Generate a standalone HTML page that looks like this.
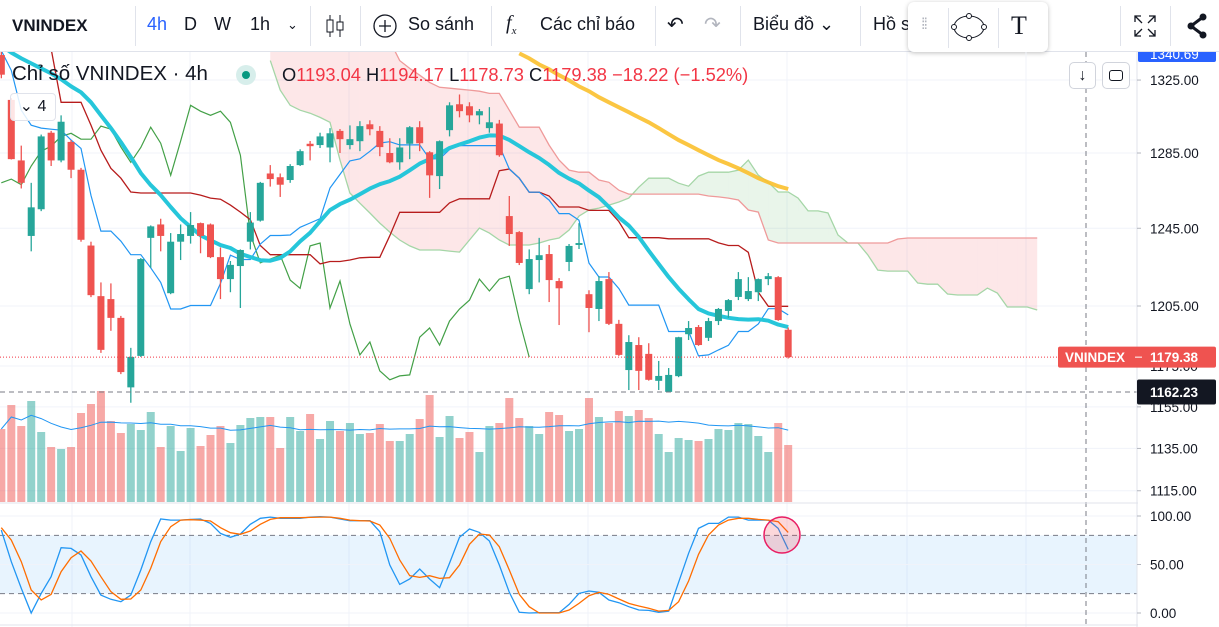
<!DOCTYPE html>
<html><head><meta charset="utf-8">
<style>
body{margin:0;width:1219px;height:627px;overflow:hidden;background:#fff;font-family:"Liberation Sans","Noto Sans CJK SC",sans-serif;color:#131722;position:relative}
.tb{position:absolute;left:0;top:0;width:1219px;height:51px;border-bottom:1px solid #e0e3eb;background:#fff}
.t{position:absolute;top:14px;font-size:18px;white-space:nowrap}
.sep{position:absolute;top:6px;width:1px;height:40px;background:#e0e3eb}
.fl{position:absolute;left:908px;top:2px;width:140px;height:50px;background:#fff;border-radius:6px;box-shadow:0 1px 5px rgba(0,0,0,.25)}
</style></head><body>
<div class="tb">
<div class="t" style="left:12px;font-weight:bold;font-size:17px;top:16px">VNINDEX</div>
<div class="sep" style="left:135px"></div>
<div class="t" style="left:147px;color:#2962ff">4h</div>
<div class="t" style="left:184px">D</div>
<div class="t" style="left:214px">W</div>
<div class="t" style="left:250px">1h</div>
<div class="t" style="left:287px;font-size:13px;top:17px">&#8964;</div>
<div class="sep" style="left:310px"></div>
<svg style="position:absolute;left:324px;top:13px" width="22" height="26"><path d="M6 2v22M16 2v22" stroke="#131722"/><rect x="3" y="7" width="6" height="12" fill="#fff" stroke="#131722"/><rect x="13" y="9" width="6" height="8" fill="#fff" stroke="#131722"/></svg>
<div class="sep" style="left:360px"></div>
<svg style="position:absolute;left:372px;top:13px" width="26" height="26"><circle cx="13" cy="13" r="11" fill="none" stroke="#131722" stroke-width="1.3"/><path d="M13 7v12M7 13h12" stroke="#131722" stroke-width="1.3"/></svg>
<div class="t" style="left:408px">So sánh</div>
<div class="sep" style="left:491px"></div>
<div class="t" style="left:506px;font-style:italic;font-family:'Liberation Serif',serif;font-size:20px;top:12px">f<sub style="font-size:11px">x</sub></div>
<div class="t" style="left:540px">Các chỉ báo</div>
<div class="sep" style="left:655px"></div>
<div class="t" style="left:667px;font-size:20px;top:12px">&#8630;</div>
<div class="t" style="left:704px;font-size:20px;top:12px;color:#b2b5be">&#8631;</div>
<div class="sep" style="left:740px"></div>
<div class="t" style="left:753px">Biểu đồ &#8964;</div>
<div class="sep" style="left:860px"></div>
<div class="t" style="left:873px">Hồ sơ</div>
<div class="sep" style="left:1120px"></div>
<svg style="position:absolute;left:1133px;top:14px" width="24" height="24"><path d="M2 8V2h6M2 2l7 7M22 8V2h-6M22 2l-7 7M2 16v6h6M2 22l7-7M22 16v6h-6M22 22l-7-7" stroke="#131722" fill="none" stroke-width="1.3"/></svg>
<div class="sep" style="left:1170px"></div>
<svg style="position:absolute;left:1185px;top:13px" width="24" height="26"><path d="M18 4L6 13l12 9" stroke="#131722" stroke-width="3" fill="none"/><circle cx="18" cy="4" r="3.5" fill="#131722"/><circle cx="6" cy="13" r="3.5" fill="#131722"/><circle cx="18" cy="22" r="3.5" fill="#131722"/></svg>
</div>
<div class="fl">
<div style="position:absolute;left:13px;top:14px;color:#b2b5be;font-size:16px;letter-spacing:-2px">⁞⁞</div>
<div style="position:absolute;left:40px;top:6px;width:1px;height:40px;background:#e0e3eb"></div>
<svg style="position:absolute;left:43px;top:10px" width="36" height="30"><ellipse cx="18" cy="15" rx="15" ry="11" fill="none" stroke="#131722"/><circle cx="3" cy="15" r="2.5" fill="#fff" stroke="#131722"/><circle cx="33" cy="15" r="2.5" fill="#fff" stroke="#131722"/><circle cx="18" cy="4" r="2.5" fill="#fff" stroke="#131722"/><circle cx="18" cy="26" r="2.5" fill="#fff" stroke="#131722"/></svg>
<div style="position:absolute;left:90px;top:6px;width:1px;height:40px;background:#e0e3eb"></div>
<div style="position:absolute;left:103px;top:9px;font-size:26px;font-family:'Liberation Serif',serif;color:#131722">T</div>
</div>

<svg id="ch" style="position:absolute;left:0;top:52px" width="1219" height="575"></svg>

<div style="position:absolute;left:12px;top:62px;font-size:20.5px;color:#131722;white-space:nowrap">Chỉ số VNINDEX · 4h</div>
<div style="position:absolute;left:236px;top:65px;width:20px;height:20px;border-radius:10px;background:#d7eeeb"><div style="position:absolute;left:6px;top:6px;width:8px;height:8px;border-radius:4px;background:#089981"></div></div>
<div style="position:absolute;left:282px;top:64px;font-size:18.3px;color:#f23645;white-space:nowrap"><span style="color:#131722">O</span>1193.04 <span style="color:#131722">H</span>1194.17 <span style="color:#131722">L</span>1178.73 <span style="color:#131722">C</span>1179.38 −18.22 (−1.52%)</div>
<div style="position:absolute;left:10px;top:93px;width:44px;height:26px;border:1px solid #e0e3eb;border-radius:4px;background:rgba(255,255,255,.85);font-size:16px;line-height:26px;text-align:center">&#8964; 4</div>
<div style="position:absolute;left:1069px;top:62px;width:25px;height:25px;border:1px solid #d1d4dc;border-radius:5px;background:#fff;text-align:center;font-size:16px;line-height:25px">↓</div>
<div style="position:absolute;left:1102px;top:62px;width:26px;height:25px;border:1px solid #d1d4dc;border-radius:5px;background:#fff"><div style="position:absolute;left:6px;top:7px;width:12px;height:9px;border:1.5px solid #131722;border-radius:3px"></div></div>

<script>
const NS='http://www.w3.org/2000/svg';
const svg=document.getElementById('ch');
// ---------- data ----------
const opens=[1339,1314,1281,1241,1255,1296,1281,1291,1276,1236,1210,1208.5,1199,1164.5,1180,1240,1247,1211.5,1238,1241,1247.7,1247,1230,1218.7,1225.4,1238,1249,1274,1272,1270.5,1278.5,1290,1289.3,1288,1297,1289.3,1291.4,1300.6,1297,1285,1280,1290,1299,1285.4,1272.6,1297.4,1311.6,1310.5,1305.5,1298.5,1301,1251.4,1243,1213.6,1228.5,1231.6,1217.7,1227.5,1236.3,1211,1203.5,1218.7,1196,1173,1185.4,1181,1167.7,1162.3,1170,1190.8,1194.4,1189,1197.4,1202.5,1209.6,1208.5,1212,1218.7,1219.7,1193.04];
const highs=[1342,1315,1289,1269,1295,1297,1305.5,1292,1277,1238,1217,1216.5,1200,1184,1229.5,1246.5,1250,1242.5,1247,1253.5,1248,1247.5,1235,1228,1234,1253.5,1269.5,1278.5,1274,1279,1287,1291.5,1296,1298.5,1298,1300,1302.3,1302.8,1299.6,1293,1293,1299.6,1302.3,1286,1291.8,1312.7,1317,1312.7,1309,1310,1303,1262,1243.5,1234,1240,1236.3,1219.2,1236.8,1247.7,1213,1220.2,1222.3,1198,1190.3,1189.3,1186.3,1177.5,1174,1189.5,1197.4,1195.4,1199,1204,1208.5,1222.3,1219.7,1219,1221.8,1220.2,1194.17];
const lows=[1326,1281.5,1266,1233,1254,1278,1280,1271.5,1238,1209.5,1181.5,1192.5,1171,1157,1179.5,1224.5,1233,1211,1228.5,1237,1232,1229.5,1208.5,1212,1204,1234,1248.5,1267,1261.5,1269,1278,1281,1287.7,1280,1285,1287,1286,1294.6,1283.3,1279.5,1276,1281.7,1286,1261,1265.7,1294,1304.4,1301.7,1300.6,1296,1283,1235.8,1225.9,1211,1217,1207,1195.4,1222.8,1234.2,1191.8,1197.4,1195.4,1180,1163.2,1163.2,1167.8,1163.2,1162,1169.5,1187.9,1185,1187.4,1195.4,1199,1208,1207.5,1207.5,1215.6,1197.5,1178.73];
const closes=[1328,1281.7,1269,1256,1294,1281,1302,1276,1239,1210.5,1183,1199,1172,1179.5,1229,1246,1241,1238,1242,1246.7,1241,1230,1218.7,1226,1233.7,1248,1269,1271,1268,1278,1286,1288.7,1294,1295.7,1292.5,1292.5,1299.6,1297.9,1288.2,1280,1288,1299,1290.3,1273,1291.4,1311,1307.8,1305.5,1307.8,1301.7,1283.8,1242,1227,1229,1231,1218.2,1214,1235.8,1237.3,1204,1217.7,1196,1180.5,1186.9,1172.6,1168.2,1170.1,1170.6,1189.3,1193.9,1185.4,1197.4,1203.5,1208,1218.7,1212.6,1218.7,1220.2,1197.9,1179.38];
const volumes=[73,97,76,101,70,55,53,55,89,98,111,81,69,78,72,90,55,76,51,74,56,67,76,59,77,84,85,85,54,85,71,88,63,81,71,79,68,69,78,61,61,68,83,107,65,86,64,70,50,76,79,104,84,76,68,90,87,71,73,104,85,79,91,86,92,84,68,50,64,62,61,63,73,72,79,78,66,50,79,57];
const ma20Early=[1344.4,1340.4,1337.1,1334.3,1331.5,1328.7,1325.4,1321.5,1318.2,1312.7,1305.5,1298.5,1290.9,1282.8,1274.2,1267.8,1262.5,1256.2,1250.3];
const kijunEarly=[1352.8,1350,1348.3,1346.1,1344.4,1342.6,1312.7,1312.7,1312.7,1300.1,1286.5,1276.8,1271.5,1264.1,1263.6,1263.6,1263.6,1263.6,1263.6,1263.6,1262.5,1260.9,1260.3,1257.2,1253.5];
const tenkanEarly=[1341.5,1330.4,1308.3,1300.1,1298.5,1297.9,1297.4,1292];
const cloudStart=27;
const spanA=[1335.9,1319.4,1311,1308.3,1306.7,1304.4,1301.7,1281.2,1263.6,1258.2,1253,1247.7,1243,1238.9,1235.8,1233.7,1233.7,1233.7,1233.1,1232.6,1238.9,1245.1,1242.5,1238.9,1236.3,1236.3,1236.3,1237.3,1238.9,1239.9,1244.1,1251.4,1254.6,1255.6,1257.2,1258.8,1260.9,1266.7,1271.5,1271.5,1271.5,1268.8,1267.2,1272.6,1274.7,1274.7,1274.7,1275.8,1281.2,1273.1,1269.3,1264.1,1264.1,1260.9,1254.1,1254.1,1253,1241.5,1237.3,1237.3,1231.1,1223.3,1222.8,1222.8,1222.8,1216.7,1216.1,1216.1,1211.1,1210.6,1210.6,1210.6,1214.1,1211.6,1204.5,1204.5,1204.5,1203];
const spanB=[1347,1347,1347,1347,1347,1347,1347,1347,1347,1347,1347,1347,1347,1335.9,1331.5,1327.7,1323.7,1321,1320.5,1319.9,1319.4,1318.8,1317.6,1317.6,1308.3,1299,1299,1299,1289.3,1281.2,1275.8,1274.7,1274.7,1270.5,1269.3,1265.1,1263,1263,1263,1263,1263,1263,1263,1263,1262,1261.5,1260.9,1259.9,1254.6,1253.5,1238.9,1237.3,1237.3,1237.3,1237.3,1237.3,1237.3,1237.3,1237.3,1237.3,1237.3,1237.3,1237.3,1239.4,1239.9,1239.9,1239.9,1239.9,1239.9,1239.9,1239.9,1239.9,1239.9,1239.9,1239.9,1239.9,1239.9,1239.9];
const slowStart=52;
const slowMA=[1339.9,1337.1,1333.7,1331,1327.7,1324.8,1321.5,1318.8,1315.5,1312.7,1309.9,1307.2,1304.4,1301.7,1298.5,1295.2,1292,1289.3,1286.5,1283.8,1281.2,1279.1,1276.8,1274.2,1271.5,1269.3,1267.2,1265.7];
const stochK=[85.5,52.9,25.4,0,20.2,37.4,67.3,66.6,59.8,37.4,18.5,14.1,11.7,18.5,44.3,73.5,96.9,95.8,95.8,96.5,96.9,92.4,82.1,78,81.4,91.4,97.6,98.9,97.6,97.6,97.6,98.9,99.3,98.9,96.9,95.2,95.2,95.2,83.8,49.5,29.5,35,45.3,35,26.1,51.2,78,86.6,83.1,74.2,49.5,21.3,0.7,0,0.3,0.3,0.3,8.9,20.2,22.7,21.3,13.4,10.6,6.5,3.1,2.7,0.7,2,31.6,61.5,87.2,92.4,92.4,98.9,98.9,95.8,95.8,95.8,87.2,65.6];
const stochD=[87.9,75.2,52.9,23.7,13.4,19.2,42.6,57,63.9,53.6,37.4,22,14.1,14.4,23.7,46,73.5,89,95.8,96.2,95.8,94.8,87.9,82.8,81.1,84.5,91.4,96.5,98.2,98.2,98.2,98.6,98.9,98.9,97.6,95.8,95.2,94.8,90.7,76.9,54.6,38.5,36.7,38.5,35.7,36.4,49.5,70.8,81.4,80.4,68.4,44.3,19.2,6.5,0,0,0,3.1,9.9,17.8,21.3,19.2,14.4,9.9,7.2,4.8,2,2.7,11.7,33,60.4,80.4,90.7,95.8,97.6,97.6,96.5,95.8,94.1,83.1];
const priceTicks=[1325,1285,1245,1205,1175,1155,1135,1115];
const stochTicks=[100,50,0];
const lastClose=1179.38, crossPrice=1162.23;
// ---------- scales ----------
const OY=52;
function X(i){return 1.34+i*9.96;}
function Y(p){return 306-2380*Math.log(p/1205)-OY;}
function VY(v){return 502-v-OY;}
function SY(v){return 613-0.97*v-OY;}
function el(tag,attrs,parent){const e=document.createElementNS(NS,tag);for(const k in attrs)e.setAttribute(k,attrs[k]);(parent||svg).appendChild(e);return e;}
function poly(vals,start,fn,attrs,name,parent){let d='';vals.forEach((v,k)=>{if(v==null)return;d+=(d?'L':'M')+X(start+k).toFixed(1)+' '+fn(v).toFixed(1);});const p=el('path',Object.assign({d:d,fill:'none'},attrs),parent);return p;}
const defs=el('defs',{});
const cp=el('clipPath',{id:'pc'},defs);el('rect',{x:0,y:0,width:1137,height:451},cp);
const cs=el('clipPath',{id:'sc'},defs);el('rect',{x:0,y:452,width:1137,height:123},cs);
[72,190,349,468,588,787,907,1026].forEach(x=>{const g=el('line',{x1:x,x2:x,y1:0,y2:575,stroke:'#f0f3fa'});});
priceTicks.forEach(p=>{const g=el('line',{x1:0,x2:1137,y1:Y(p),y2:Y(p),stroke:'#f0f3fa'});});
const band=el('rect',{x:0,y:SY(80),width:1137,height:SY(20)-SY(80),fill:'rgba(33,150,243,0.1)'});

stochTicks.forEach(v=>{el('line',{x1:0,x2:1137,y1:SY(v),y2:SY(v),stroke:'#f0f3fa'});});
[80,20].forEach(v=>{const l=el('line',{x1:0,x2:1137,y1:SY(v),y2:SY(v),stroke:'#787b86','stroke-dasharray':'5,4'});});
const gP=el('g',{'clip-path':'url(#pc)'});

for(let k=0;k<spanA.length-1;k++){
  const i=cloudStart+k;const a0=Y(spanA[k]),a1=Y(spanA[k+1]),b0=Y(spanB[k]),b1=Y(spanB[k+1]);
  const bull=(spanA[k]+spanA[k+1])>=(spanB[k]+spanB[k+1]);
  const q=el('path',{d:`M${X(i)} ${a0}L${X(i+1)} ${a1}L${X(i+1)} ${b1}L${X(i)} ${b0}Z`,fill:bull?'rgba(76,175,80,0.12)':'rgba(242,54,69,0.12)'},gP);
  
}
poly(spanA,cloudStart,Y,{stroke:'#a5d6a7','stroke-width':1.3},'senkou-span-a',gP);
poly(spanB,cloudStart,Y,{stroke:'#ef9a9a','stroke-width':1.3},'senkou-span-b',gP);
const volMA=volumes.map((v,i)=>{const s=Math.max(0,i-19);const w=volumes.slice(s,i+1);return w.reduce((a,b)=>a+b,0)/w.length;});
volumes.forEach((v,i)=>{const up=closes[i]>=opens[i];const r=el('rect',{x:X(i)-4,y:VY(v),width:8,height:v,fill:up?'rgba(38,166,154,0.5)':'rgba(239,83,80,0.5)'},gP);});
poly(volMA,0,VY,{stroke:'#2196f3','stroke-width':1},'volume-ma',gP);
const tenkan=closes.map((c,i)=>{if(i<8)return tenkanEarly[i];const h=Math.max(...highs.slice(i-8,i+1)),l=Math.min(...lows.slice(i-8,i+1));return (h+l)/2;});
const kijun=closes.map((c,i)=>{if(i<25)return kijunEarly[i];const h=Math.max(...highs.slice(i-25,i+1)),l=Math.min(...lows.slice(i-25,i+1));return (h+l)/2;});
const ma20=closes.map((c,i)=>{if(i<19)return ma20Early[i];return closes.slice(i-19,i+1).reduce((a,b)=>a+b,0)/20;});
const chikou=closes.slice(26);
poly(chikou,0,Y,{stroke:'#43a047','stroke-width':1.2},'chikou-span',gP);
poly(kijun,0,Y,{stroke:'#b71c1c','stroke-width':1.3},'kijun-sen',gP);
poly(tenkan,0,Y,{stroke:'#2196f3','stroke-width':1.2},'tenkan-sen',gP);
poly(ma20,0,Y,{stroke:'#26c6da','stroke-width':4,'stroke-linejoin':'round'},'ma20-line',gP);
poly(slowMA,slowStart,Y,{stroke:'#fbc02d','stroke-width':4,opacity:0.9},'slow-ma-line',gP);
closes.forEach((c,i)=>{
  const o=opens[i],up=c>=o,col=up?'#26a69a':'#ef5350';
  const w=el('line',{x1:X(i),x2:X(i),y1:Y(highs[i]),y2:Y(lows[i]),stroke:col,'stroke-width':1.3},gP);
  
  const t=Math.min(Y(o),Y(c)),h=Math.max(1,Math.abs(Y(o)-Y(c)));
  const b=el('rect',{x:X(i)-3.5,y:t,width:7,height:h,fill:col},gP);
  
});
const lp=el('line',{x1:0,x2:1137,y1:Y(lastClose),y2:Y(lastClose),stroke:'#f23645','stroke-dasharray':'1,2'});

const ch=el('line',{x1:0,x2:1137,y1:Y(crossPrice),y2:Y(crossPrice),stroke:'#787b86','stroke-dasharray':'5,4'});

const cv=el('line',{x1:1086,x2:1086,y1:0,y2:575,stroke:'#787b86','stroke-dasharray':'5,4'});

const gS=el('g',{'clip-path':'url(#sc)'});

poly(stochK,0,SY,{stroke:'#2196f3','stroke-width':1.3},'stoch-k',gS);
poly(stochD,0,SY,{stroke:'#ff6d00','stroke-width':1.3},'stoch-d',gS);
const circ=el('circle',{cx:782,cy:535-OY,r:18,fill:'rgba(242,54,69,0.2)',stroke:'#e91e63','stroke-width':1.5});

el('line',{x1:0,x2:1219,y1:451,y2:451,stroke:'#e0e3eb'});
el('line',{x1:0,x2:1219,y1:573,y2:573,stroke:'#e0e3eb'});
el('line',{x1:1137,x2:1137,y1:0,y2:575,stroke:'#e0e3eb'});
el('rect',{x:1138,y:0,width:81,height:575,fill:'#fff'});
priceTicks.forEach(p=>{el('line',{x1:1137,x2:1141,y1:Y(p),y2:Y(p),stroke:'#b2b5be'});const t=el('text',{x:1150,y:Y(p)+5,'font-size':13.5,fill:'#131722'});t.textContent=p.toFixed(2);});
stochTicks.forEach(v=>{el('line',{x1:1137,x2:1141,y1:SY(v),y2:SY(v),stroke:'#b2b5be'});const t=el('text',{x:1150,y:SY(v)+5,'font-size':13.5,fill:'#131722'});t.textContent=v.toFixed(2);});
const tl=el('rect',{x:1138,y:-8,width:78,height:18,fill:'#2962ff',rx:2});

const tt=el('text',{x:1150,y:7,'font-size':13.5,fill:'#fff'});tt.textContent='1340.69';
const ly=Y(lastClose);
const lb=el('rect',{x:1058,y:ly-10.5,width:158,height:21,fill:'#ef5350',rx:2});

const lt1=el('text',{x:1065,y:ly+5,'font-size':13.5,fill:'#fff','font-weight':'bold'});lt1.textContent='VNINDEX';
const lt2=el('text',{x:1150,y:ly+5,'font-size':13.5,fill:'#fff','font-weight':'bold'});lt2.textContent=lastClose.toFixed(2);
el('line',{x1:1135,x2:1142,y1:ly,y2:ly,stroke:'#fff'});
const cy=Y(crossPrice);
const cb=el('rect',{x:1137,y:cy-12.5,width:79,height:25,fill:'#131722',rx:2});

const ct=el('text',{x:1150,y:cy+5,'font-size':13.5,fill:'#fff','font-weight':'bold'});ct.textContent=crossPrice.toFixed(2);
</script>
</body></html>
